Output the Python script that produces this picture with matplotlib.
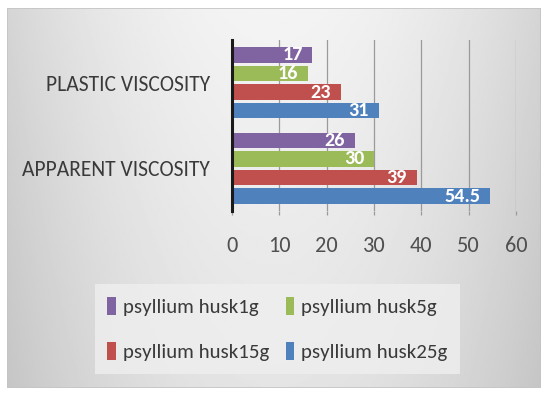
import numpy as np
import matplotlib
matplotlib.use("Agg")
import matplotlib.pyplot as plt
from matplotlib.patches import Rectangle
from matplotlib import font_manager as fm

# pick a narrow sans-serif face for the Office-style lettering
available = {f.name for f in fm.fontManager.ttflist}
preferred = ['Carlito', 'Liberation Sans Narrow', 'Arial Narrow',
             'Roboto Condensed', 'Open Sans Condensed', 'PT Sans Narrow',
             'Fira Sans Condensed', 'Ubuntu Condensed', 'Archivo Narrow',
             'Barlow Semi Condensed', 'Noto Sans Display']
face = next((p for p in preferred if p in available), 'DejaVu Sans')
plt.rcParams['font.family'] = [face, 'DejaVu Sans']
plt.rcParams['font.stretch'] = 'condensed'

categories = ['APPARENT VISCOSITY', 'PLASTIC VISCOSITY']
series_names = ['psyllium husk1g', 'psyllium husk5g',
                'psyllium husk15g', 'psyllium husk25g']
husk_1g = [26, 17]
husk_5g = [30, 16]
husk_15g = [39, 23]
husk_25g = [54.5, 31]
value_labels = [['26', '17'], ['30', '16'], ['39', '23'], ['54.5', '31']]
x_ticks = [0, 10, 20, 30, 40, 50, 60]

series = [husk_1g, husk_5g, husk_15g, husk_25g]
colors = ['#8064A2', '#9BBB59', '#C0504D', '#4F81BD']

W, H = 548, 394
fig = plt.figure(figsize=(W / 100, H / 100), dpi=100)
fig.patch.set_facecolor('white')

# chart area with soft grey gradient
bx0, by0, bx1, by1 = 7, 8, 541, 388
bg = fig.add_axes([bx0 / W, 1 - by1 / H, (bx1 - bx0) / W, (by1 - by0) / H])
gy, gx = np.mgrid[0:1:200j, 0:1:300j]
shade = 0.955 - 0.12 * (2 * gx - 1) ** 2 - 0.06 * gy
bg.imshow(shade, cmap='gray', vmin=0, vmax=1, aspect='auto',
          extent=[0, 1, 1, 0], interpolation='bilinear')
bg.set_xlim(0, 1)
bg.set_ylim(1, 0)
bg.axis('off')
bg.add_patch(Rectangle((0, 0), 1, 1, transform=bg.transAxes, fill=False,
                       edgecolor='#c4c4c4', lw=1.2))

# plot area
ax = fig.add_axes([232 / W, 1 - 211 / H, 284 / W, 171 / H])
ax.patch.set_alpha(0)

pitch = 0.218
height = 0.182
y = np.arange(len(categories))
bar_handles = []
for i, (vals, col, labs) in enumerate(zip(series, colors, value_labels)):
    pos = y + (1.5 - i) * pitch
    bars = ax.barh(pos, vals, height=height, color=col, zorder=3,
                   label=series_names[i])
    bar_handles.append(bars)
    for b, v, t in zip(bars, vals, labs):
        ax.annotate(t, (v, b.get_y() + b.get_height() / 2),
                    xytext=(-7, 0), textcoords='offset points',
                    ha='right', va='center', color='white', fontsize=14.5,
                    fontweight='bold', zorder=4)

ax.set_xlim(0, 60)
ax.set_ylim(-0.5, 1.5)
ax.set_xticks(x_ticks)
ax.set_xticklabels([str(t) for t in x_ticks])
ax.set_yticks(y)
ax.set_yticklabels(categories)
ax.grid(axis='x', color='#9a9a9a', lw=0.9, zorder=0)
ax.tick_params(axis='x', length=3, width=0.9, color='#9a9a9a', pad=15,
               labelsize=16, labelcolor='#505050')
ax.tick_params(axis='y', length=0, pad=16, labelsize=15.5,
               labelcolor='#3a3a3a')
for s in ['top', 'right', 'bottom']:
    ax.spines[s].set_visible(False)
ax.spines['left'].set_color('#1a1a1a')
ax.spines['left'].set_linewidth(2.2)
ax.spines['left'].set_zorder(5)

# legend filled row by row: 1g, 5g / 15g, 25g
order = [0, 2, 1, 3]
leg = fig.legend([bar_handles[k] for k in order],
                 [series_names[k] for k in order], ncol=2, loc='center',
                 bbox_to_anchor=(277.5 / W, 1 - 329 / H),
                 fontsize=15, handlelength=0.4, handleheight=0.95,
                 handletextpad=0.35, columnspacing=0.8, labelspacing=1.25,
                 borderpad=0.6, frameon=True, fancybox=False)
leg.get_frame().set_facecolor('#efefef')
leg.get_frame().set_edgecolor('none')
for t in leg.get_texts():
    t.set_color('#3a3a3a')

fig.savefig('out.png', dpi=100)
